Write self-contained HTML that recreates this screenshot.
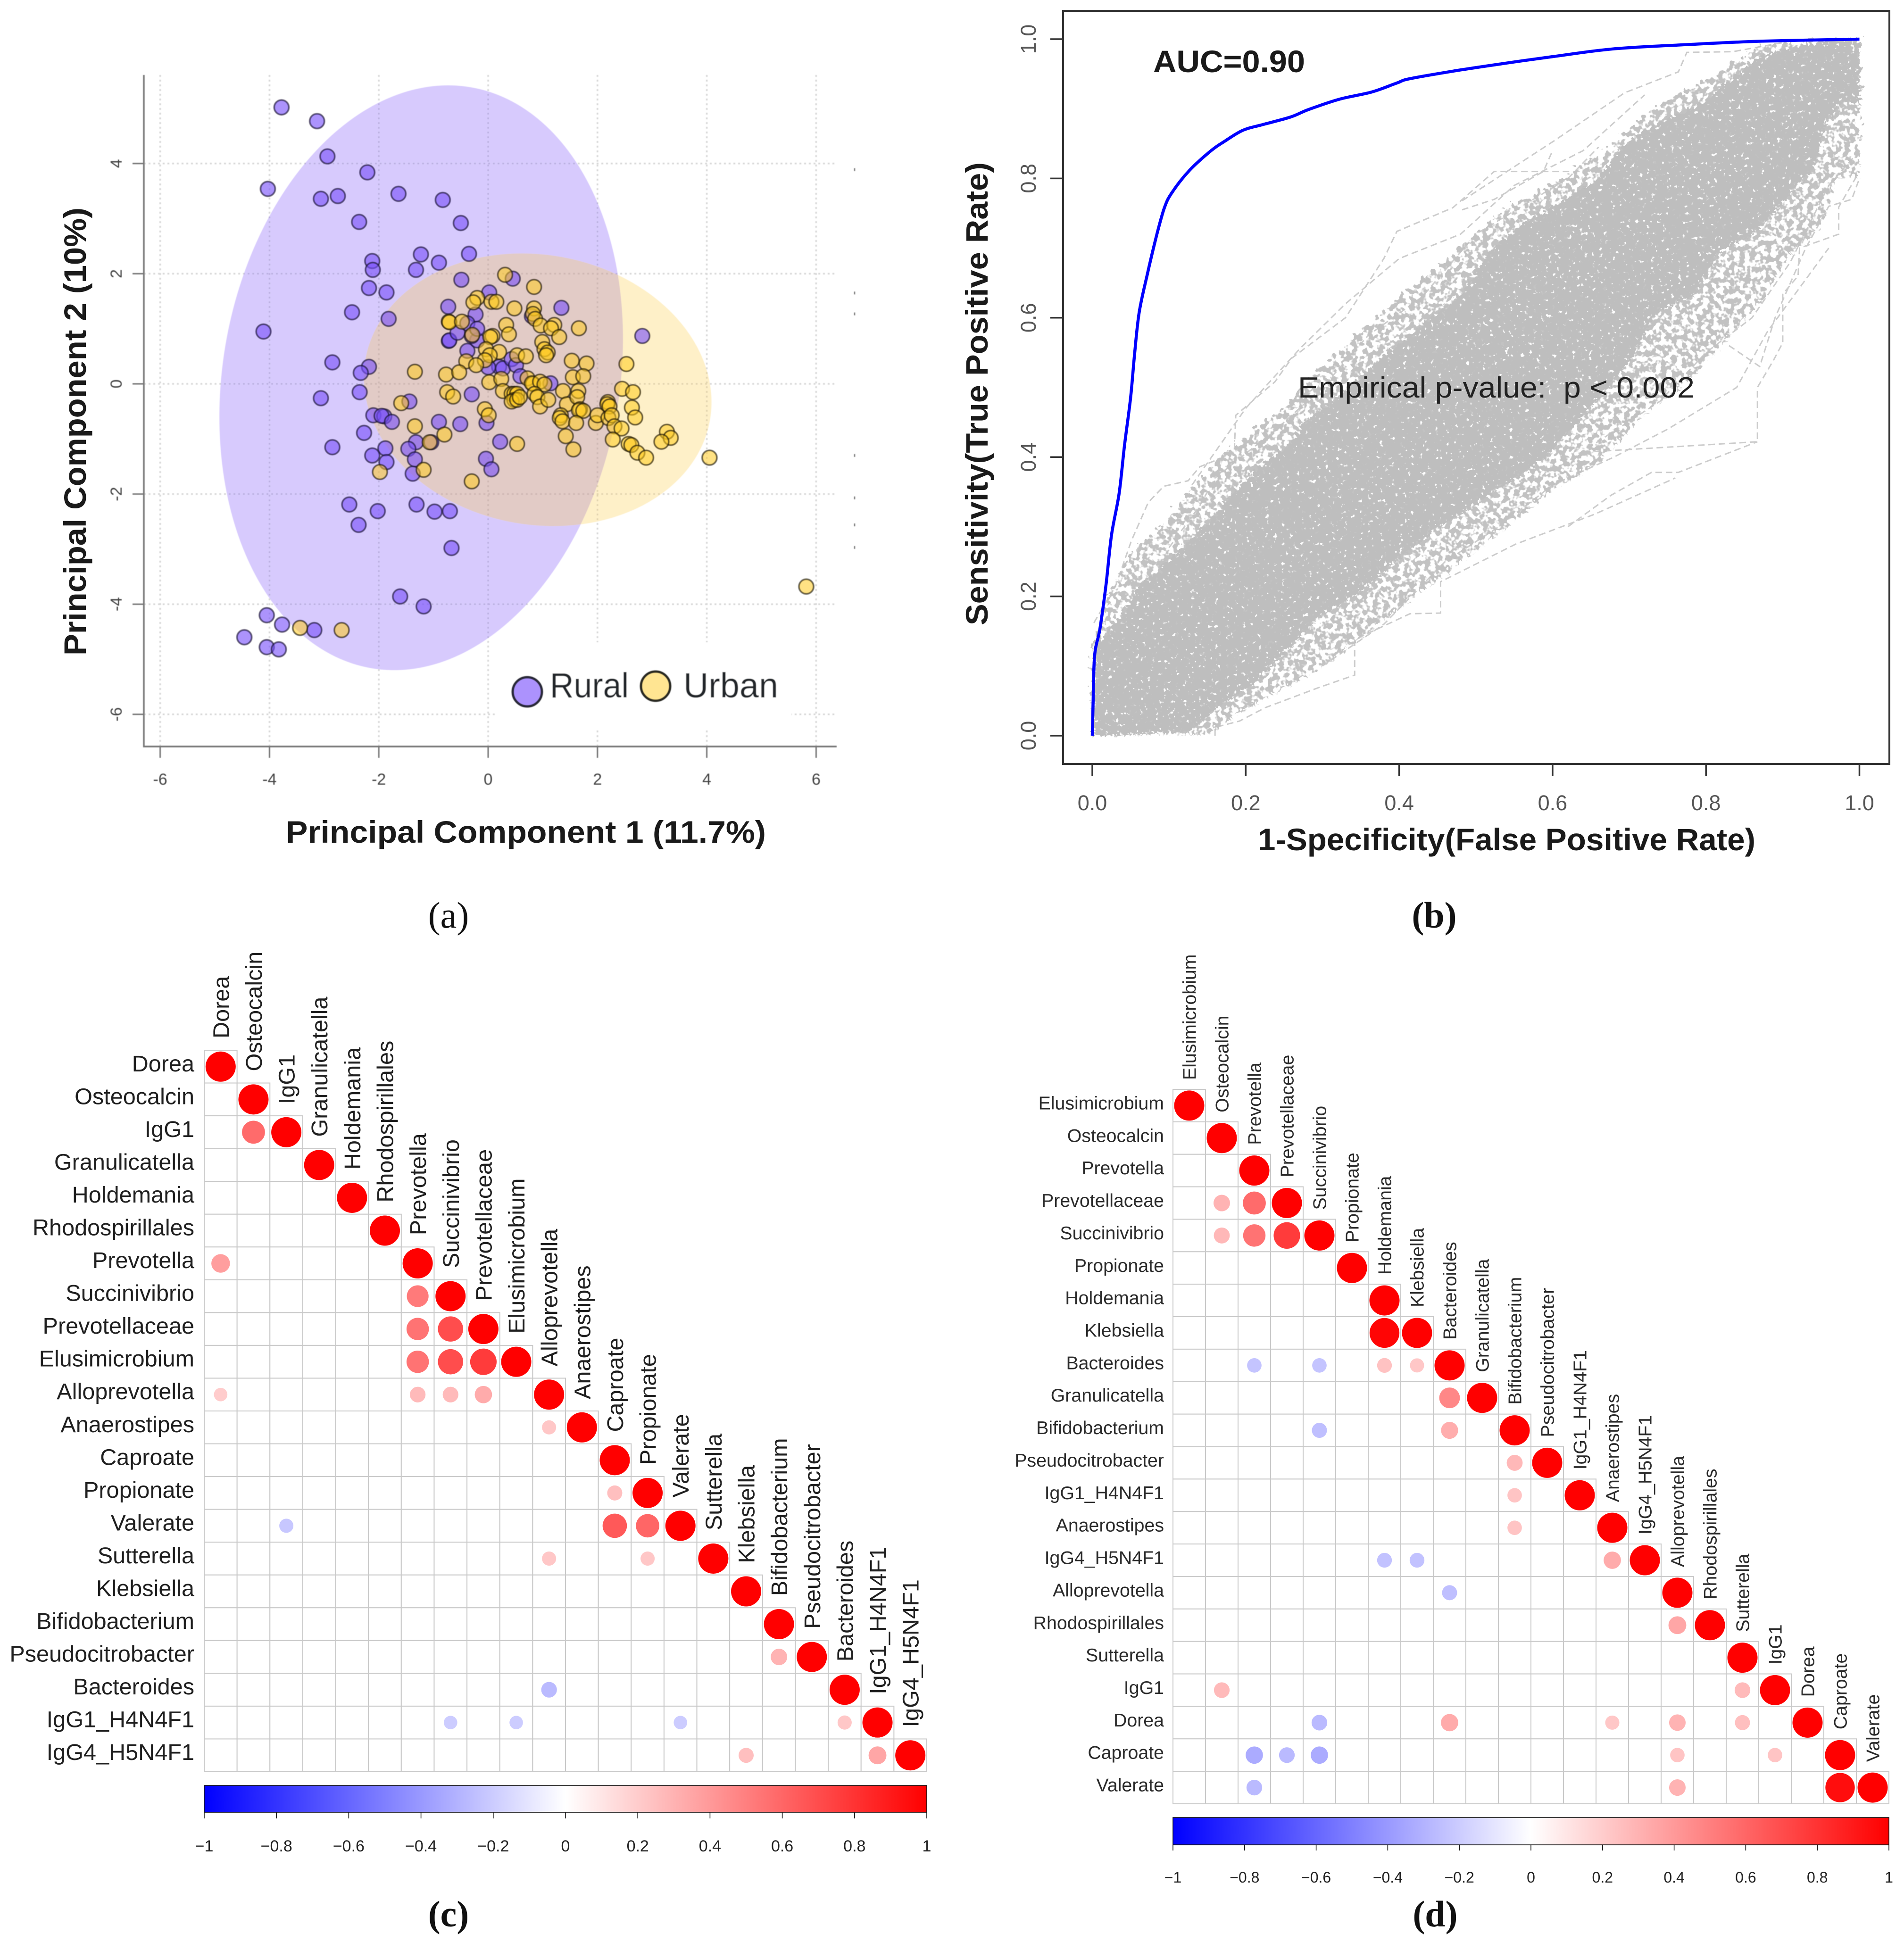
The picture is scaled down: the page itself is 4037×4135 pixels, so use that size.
<!DOCTYPE html>
<html lang="en">
<head>
<meta charset="utf-8">
<title>PCA, ROC and correlation panels</title>
<style>
html,body{margin:0;padding:0;background:#fff}
svg{display:block}
text{font-family:"Liberation Sans",Arial,sans-serif}
.cap{font-family:"Liberation Serif","Times New Roman",serif;font-size:78px;fill:#111;text-anchor:middle}
.ttl{font-weight:bold;font-size:66px;fill:#1a1a1a}
</style>
</head>
<body>
<svg id="root" xmlns="http://www.w3.org/2000/svg" width="4037" height="4135" viewBox="0 0 4037 4135">
  <defs>
    <linearGradient id="cbar" x1="0" x2="1" y1="0" y2="0">
      <stop offset="0" stop-color="#0000ff"/>
      <stop offset="0.5" stop-color="#ffffff"/>
      <stop offset="1" stop-color="#ff0000"/>
    </linearGradient>
    <filter id="soften" x="-2%" y="-2%" width="104%" height="104%">
      <feGaussianBlur stdDeviation="0.9"/>
    </filter>
    <filter id="fringeTexture" x="-4%" y="-4%" width="108%" height="108%" color-interpolation-filters="sRGB">
      <feTurbulence type="fractalNoise" baseFrequency="0.09" numOctaves="2" seed="7" result="noise"/>
      <feDisplacementMap in="SourceGraphic" in2="noise" scale="34" xChannelSelector="R" yChannelSelector="G" result="moved"/>
      <feColorMatrix in="noise" type="matrix" values="0 0 0 0 0  0 0 0 0 0  0 0 0 0 0  0 10 0 0 -4.4" result="mask"/>
      <feComposite in="moved" in2="mask" operator="in"/>
    </filter>
    <filter id="coreTexture" x="-4%" y="-4%" width="108%" height="108%" color-interpolation-filters="sRGB">
      <feTurbulence type="fractalNoise" baseFrequency="0.12" numOctaves="2" seed="11" result="noise"/>
      <feDisplacementMap in="SourceGraphic" in2="noise" scale="26" xChannelSelector="R" yChannelSelector="G" result="moved"/>
      <feColorMatrix in="noise" type="matrix" values="0 0 0 0 0  0 0 0 0 0  0 0 0 0 0  0 14 0 0 -3.9" result="mask"/>
      <feComposite in="moved" in2="mask" operator="in"/>
    </filter>
  </defs>
  <g id="panelA" filter="url(#soften)"></g>
  <g id="panelB"></g>
  <g id="panelC"></g>
  <g id="panelD"></g>

  <text class="ttl" x="606" y="1787" textLength="1018" lengthAdjust="spacingAndGlyphs">Principal Component 1 (11.7%)</text>
  <text class="ttl" transform="translate(182,915) rotate(-90)" text-anchor="middle" textLength="950" lengthAdjust="spacingAndGlyphs">Principal Component 2 (10%)</text>
  <text class="ttl" x="2667" y="1803" textLength="1055" lengthAdjust="spacingAndGlyphs">1-Specificity(False Positive Rate)</text>
  <text class="ttl" transform="translate(2094,835) rotate(-90)" text-anchor="middle" textLength="982" lengthAdjust="spacingAndGlyphs">Sensitivity(True Positive Rate)</text>
  <text class="ttl" x="2445" y="153" textLength="322" lengthAdjust="spacingAndGlyphs">AUC=0.90</text>
  <text x="2752" y="843" font-size="62" fill="#222" textLength="841" lengthAdjust="spacingAndGlyphs" xml:space="preserve">Empirical p-value:  p &lt; 0.002</text>

  <text class="cap" x="951" y="1967">(a)</text>
  <text class="cap" x="3041" y="1967" font-weight="bold">(b)</text>
  <text class="cap" x="951" y="4085" font-weight="bold">(c)</text>
  <text class="cap" x="3043" y="4085" font-weight="bold">(d)</text>
</svg>

<script>
/* ---------- Panel A data ---------- */
const pcaXTickLabels = ['-6','-4','-2','0','2','4','6'];
const pcaYTickLabels = ['-6','-4','-2','0','2','4'];
const pcaEdgeMarks = [3.89,1.65,1.27,-1.3,-2.07,-2.56,-2.97];
const ruralEllipse = [-1.225, 0.111, 3.63, 5.35, 9.7];
const urbanEllipse = [0.906, -0.107, 3.2, 2.45, 10.1];
const ruralPoints = [
[-3.78,5.02],[-3.13,4.77],[-2.94,4.13],[-4.03,3.54],[-3.06,3.36],[-2.75,3.41],[-2.21,3.84],[-1.64,3.45],[-0.83,3.34],[-0.5,2.92],
[-2.36,2.94],[-1.23,2.35],[-0.35,2.36],[-2.12,2.23],[-2.11,2.07],[-1.32,2.07],[-0.9,2.2],[-0.49,1.89],[-2.18,1.74],[-1.86,1.66],
[-2.49,1.3],[-1.82,1.18],[-4.11,0.95],[0.45,1.91],[0.02,1.66],[-0.73,1.4],[1.34,1.38],[-0.23,1.26],[0.8,1.23],[2.82,0.87],
[-2.85,0.39],[-2.18,0.31],[-2.33,0.2],[-2.35,-0.15],[-3.06,-0.26],[-1.44,-0.32],[-0.3,-0.19],[-2.1,-0.57],[-1.9,-0.59],[-1.95,-0.58],
[-1.76,-0.69],[-0.9,-0.69],[-0.51,-0.73],[-0.03,-0.71],[-2.27,-0.89],[-2.85,-1.15],[-1.32,-1.06],[-1.88,-1.17],[-1.46,-1.18],[-1.04,-1.06],
[-2.12,-1.3],[-1.86,-1.42],[-1.34,-1.37],[-1.38,-1.63],[0.22,-1.05],[-0.04,-1.36],[0.06,-1.55],[-2.54,-2.19],[-1.31,-2.19],[-2.02,-2.31],
[-0.98,-2.32],[-0.7,-2.31],[-2.37,-2.56],[-0.67,-2.98],[-1.61,-3.86],[-1.18,-4.04],[-4.05,-4.2],[-3.77,-4.37],[-3.18,-4.47],[-4.46,-4.6],
[-4.05,-4.78],[-3.83,-4.82],[-0.72,0.78],[-0.71,0.79],[-0.56,0.93],[-0.38,1.1],[-0.38,0.6],[-0.2,0.79],[-0.3,0.87],[0.2,0.31],
[0.27,0.28],[0.43,0.45],[0.51,0.34],[0.59,0.14],[1.14,0.01],[0.0,0.3],[-0.2,1.0]
];
const urbanPoints = [
[0.31,1.98],[0.84,1.76],[-0.2,1.56],[-0.27,1.48],[0.06,1.49],[0.15,1.49],[0.48,1.37],[0.84,1.37],[0.82,1.27],[0.86,1.18],
[-0.72,1.13],[-0.71,1.12],[-0.48,1.13],[0.33,1.07],[0.96,1.06],[1.21,1.07],[1.15,1.01],[1.66,1.01],[0.38,0.9],[-0.29,0.89],
[0.08,0.87],[0.04,0.85],[1.3,0.85],[0.99,0.76],[1.03,0.63],[1.09,0.57],[1.06,0.52],[-0.04,0.63],[0.2,0.58],[0.03,0.52],
[-0.06,0.43],[0.53,0.52],[0.69,0.5],[-0.4,0.41],[-0.22,0.34],[1.53,0.42],[1.8,0.37],[2.53,0.36],[-1.34,0.22],[-0.77,0.17],
[-0.53,0.21],[0.02,0.03],[0.24,0.09],[1.55,0.12],[1.74,0.14],[0.72,0.1],[0.82,0.0],[0.8,0.01],[0.95,0.04],[1.03,-0.01],
[2.45,-0.09],[2.65,-0.15],[-0.75,-0.15],[-0.64,-0.23],[0.27,-0.13],[1.37,-0.13],[1.65,-0.13],[0.43,-0.18],[0.48,-0.18],[0.53,-0.18],
[0.48,-0.29],[0.43,-0.32],[0.53,-0.29],[0.58,-0.24],[0.85,-0.18],[0.9,-0.24],[0.95,-0.41],[1.1,-0.29],[-1.59,-0.35],[-0.06,-0.46],
[0.01,-0.57],[2.19,-0.33],[2.18,-0.37],[2.22,-0.41],[2.63,-0.43],[2.69,-0.61],[1.44,-0.37],[1.63,-0.24],[1.68,-0.46],[1.66,-0.48],
[1.74,-0.49],[1.33,-0.57],[1.31,-0.62],[1.36,-0.68],[1.61,-0.71],[1.97,-0.71],[2.0,-0.57],[2.2,-0.62],[2.26,-0.57],[-1.34,-0.77],
[2.31,-0.77],[2.44,-0.81],[-0.8,-0.92],[1.42,-0.95],[2.28,-1.01],[3.27,-0.87],[3.34,-0.98],[3.17,-1.05],[2.57,-1.09],[2.62,-1.11],
[0.53,-1.09],[-1.07,-1.06],[1.56,-1.19],[2.73,-1.25],[2.89,-1.34],[4.05,-1.34],[-1.18,-1.56],[-1.98,-1.6],[-0.3,-1.77],[5.82,-3.68],
[-3.44,-4.43],[-2.68,-4.47]
];
const legendNames = ['Rural','Urban'];

/* ---------- Panel B data ---------- */
const rocXTickLabels = ['0.0','0.2','0.4','0.6','0.8','1.0'];
const rocYTickLabels = ['0.0','0.2','0.4','0.6','0.8','1.0'];
const rocCurve = [
[0,0],[0.001,0.046],[0.003,0.115],[0.01,0.154],[0.018,0.218],[0.025,0.288],[0.035,0.348],[0.042,0.417],[0.05,0.486],[0.055,0.547],
[0.061,0.607],[0.071,0.659],[0.084,0.719],[0.094,0.758],[0.104,0.78],[0.127,0.812],[0.155,0.84],[0.172,0.853],[0.196,0.869],[0.221,0.877],
[0.258,0.888],[0.282,0.899],[0.323,0.914],[0.364,0.924],[0.397,0.937],[0.413,0.943],[0.47,0.954],[0.536,0.965],[0.601,0.975],[0.679,0.986],
[0.773,0.992],[0.871,0.997],[1,1]
];
const permCoreUpper = [
[0,0],[0.006,0.135],[0.037,0.169],[0.058,0.211],[0.101,0.252],[0.128,0.28],[0.157,0.314],[0.185,0.349],[0.213,0.383],[0.249,0.411],
[0.277,0.449],[0.312,0.48],[0.39,0.555],[0.482,0.634],[0.517,0.694],[0.553,0.729],[0.606,0.763],[0.658,0.798],[0.694,0.85],[0.746,0.884],
[0.793,0.906],[0.835,0.944],[0.87,0.975],[0.923,0.992],[1,1]
];
const permCoreLower = [
[1,0.906],[0.976,0.91],[0.955,0.875],[0.941,0.815],[0.898,0.763],[0.863,0.72],[0.817,0.694],[0.786,0.634],[0.736,0.608],[0.701,0.538],
[0.641,0.46],[0.588,0.396],[0.524,0.349],[0.446,0.294],[0.39,0.245],[0.347,0.204],[0.291,0.166],[0.249,0.117],[0.213,0.076],[0.164,0.041],
[0.128,0.007],[0.02,0]
];
const permFringeUpper = [
[0,0.12],[0.02,0.2],[0.05,0.26],[0.09,0.3],[0.12,0.34],[0.16,0.39],[0.2,0.43],[0.25,0.47],[0.3,0.53],[0.38,0.61],
[0.46,0.68],[0.53,0.75],[0.6,0.79],[0.67,0.84],[0.73,0.9],[0.8,0.94],[0.87,0.99],[0.95,0.998],[1,1]
];
const permFringeLower = [
[1,0.8],[0.97,0.8],[0.95,0.73],[0.91,0.69],[0.87,0.62],[0.82,0.56],[0.77,0.5],[0.72,0.46],[0.66,0.39],[0.6,0.35],
[0.53,0.29],[0.46,0.23],[0.4,0.18],[0.34,0.13],[0.29,0.09],[0.24,0.06],[0.19,0.03],[0.15,0],[0,0]
];
const permOutlierA = [[0.002,0.162],[0.03,0.214],[0.051,0.28],[0.073,0.335],[0.093,0.358],[0.125,0.366],[0.14,0.386],[0.185,0.406],[0.187,0.46],[0.238,0.508],[0.26,0.542],[0.33,0.6],[0.38,0.685],[0.397,0.724],[0.47,0.758],[0.524,0.81],[0.651,0.81]];
const permOutlierB = [[0.482,0.768],[0.602,0.854],[0.694,0.923],[0.764,0.953],[0.775,0.981],[0.835,0.982],[0.9,0.995]];
const permOutlierC = [[0.13,0.36],[0.2,0.47],[0.27,0.555],[0.33,0.62],[0.4,0.685],[0.48,0.72],[0.55,0.79],[0.64,0.84],[0.72,0.92]];
const permOutlierD = [[0.1,0.27],[0.14,0.33],[0.16,0.37],[0.24,0.44],[0.3,0.5],[0.36,0.575],[0.43,0.63],[0.5,0.72],[0.56,0.76],[0.62,0.8],[0.66,0.845]];
const permOutlierE = [[0.641,0.407],[0.701,0.411],[0.867,0.422],[0.867,0.5],[0.888,0.539],[0.9,0.564],[0.9,0.634],[0.91,0.647],[0.92,0.66],[0.922,0.7],[0.973,0.72],[0.973,0.759],[1,0.81]];
const permOutlierF = [[0.62,0.3],[0.676,0.345],[0.729,0.378],[0.764,0.378],[0.867,0.422]];
const permOutlierG = [[0.16,0],[0.16,0.012],[0.192,0.021],[0.225,0.04],[0.295,0.069],[0.342,0.087],[0.342,0.138],[0.414,0.175],[0.454,0.176],[0.454,0.221],[0.552,0.275],[0.655,0.318],[0.76,0.37]];
const permOutlierH = [[0.3,0.1],[0.38,0.16],[0.46,0.25],[0.53,0.3],[0.6,0.36],[0.68,0.4],[0.75,0.44],[0.84,0.5],[0.88,0.58],[0.92,0.64],[0.96,0.7]];
const permOutlierI = [[0.6,0.38],[0.67,0.43],[0.74,0.48],[0.8,0.55],[0.86,0.6],[0.91,0.68],[0.96,0.79],[1,0.84]];
const permOutlierJ = [[0.83,0.56],[0.87,0.53],[0.89,0.6],[0.93,0.7],[0.96,0.76],[0.99,0.77],[1,0.8]];
const permOutlierK = [[0.482,0.755],[0.524,0.77],[0.588,0.81],[0.6,0.84]];
const permOutliers = [permOutlierA,permOutlierB,permOutlierC,permOutlierD,permOutlierE,permOutlierF,permOutlierG,permOutlierH,permOutlierI,permOutlierJ,permOutlierK];

/* ---------- Panel C / D data ---------- */
const colorbarLabels = ['\u22121','\u22120.8','\u22120.6','\u22120.4','\u22120.2','0','0.2','0.4','0.6','0.8','1'];
const colorbarValues = [-1,-0.8,-0.6,-0.4,-0.2,0,0.2,0.4,0.6,0.8,1];
const corrLabelsC = ['Dorea','Osteocalcin','IgG1','Granulicatella','Holdemania','Rhodospirillales','Prevotella','Succinivibrio','Prevotellaceae','Elusimicrobium','Alloprevotella','Anaerostipes','Caproate','Propionate','Valerate','Sutterella','Klebsiella','Bifidobacterium','Pseudocitrobacter','Bacteroides','IgG1_H4N4F1','IgG4_H5N4F1'];
const corrDiagC = [1,1,1,1,1,1,1,1,1,1,1,1,1,1,1,1,1,1,1,1,1,1];
const corrPairsC = [
[2,1,0.58],[6,0,0.38],[7,6,0.52],[8,6,0.55],[8,7,0.7],[9,6,0.55],[9,7,0.7],[9,8,0.77],[10,0,0.2],[10,6,0.27],
[10,7,0.27],[10,8,0.33],[11,10,0.22],[13,12,0.25],[14,2,-0.22],[14,12,0.65],[14,13,0.6],[15,10,0.22],[15,13,0.22],[18,17,0.3],
[19,10,-0.27],[20,7,-0.2],[20,9,-0.2],[20,14,-0.2],[20,19,0.22],[21,16,0.25],[21,20,0.35]
];
const corrLabelsD = ['Elusimicrobium','Osteocalcin','Prevotella','Prevotellaceae','Succinivibrio','Propionate','Holdemania','Klebsiella','Bacteroides','Granulicatella','Bifidobacterium','Pseudocitrobacter','IgG1_H4N4F1','Anaerostipes','IgG4_H5N4F1','Alloprevotella','Rhodospirillales','Sutterella','IgG1','Dorea','Caproate','Valerate'];
const corrDiagD = [1,1,1,1,1,1,1,1,1,1,1,1,1,1,1,1,1,1,1,1,1,1];
const corrPairsD = [
[3,1,0.3],[3,2,0.58],[4,1,0.28],[4,2,0.55],[4,3,0.77],[7,6,0.98],[8,2,-0.23],[8,4,-0.23],[8,6,0.24],[8,7,0.22],
[9,8,0.47],[10,4,-0.25],[10,8,0.32],[11,10,0.28],[12,10,0.23],[13,10,0.23],[14,6,-0.24],[14,7,-0.24],[14,13,0.33],[15,8,-0.25],
[16,15,0.35],[18,1,0.27],[18,17,0.27],[19,4,-0.27],[19,8,0.33],[19,13,0.22],[19,15,0.3],[19,17,0.25],[20,2,-0.33],[20,3,-0.27],
[20,4,-0.33],[20,15,0.23],[20,18,0.23],[21,2,-0.27],[21,15,0.3],[21,20,0.95]
];

/* ---------- Helpers ---------- */
const NS = 'http://www.w3.org/2000/svg';
function mk(tag, attrs, parent, text) {
  const n = document.createElementNS(NS, tag);
  for (const k in attrs) n.setAttribute(k, attrs[k]);
  if (text !== undefined) n.textContent = text;
  parent.appendChild(n);
  return n;
}
function pathOf(pts, sx, sy) {
  return pts.map((p, i) => (i ? 'L' : 'M') + sx(p[0]).toFixed(1) + ' ' + sy(p[1]).toFixed(1)).join('');
}
function smoothPathOf(pts, sx, sy) {
  const q = pts.map(p => [sx(p[0]), sy(p[1])]);
  let d = 'M' + q[0][0].toFixed(1) + ' ' + q[0][1].toFixed(1);
  for (let i = 0; i < q.length - 1; i++) {
    const a = q[Math.max(0, i - 1)], b = q[i], c = q[i + 1], e = q[Math.min(q.length - 1, i + 2)];
    const c1x = b[0] + (c[0] - a[0]) / 6, c1y = b[1] + (c[1] - a[1]) / 6;
    const c2x = c[0] - (e[0] - b[0]) / 6, c2y = c[1] - (e[1] - b[1]) / 6;
    d += 'C' + c1x.toFixed(1) + ' ' + c1y.toFixed(1) + ' ' + c2x.toFixed(1) + ' ' + c2y.toFixed(1) + ' ' + c[0].toFixed(1) + ' ' + c[1].toFixed(1);
  }
  return d;
}

/* ---------- Panel A ---------- */
(function () {
  const g = document.getElementById('panelA');
  const x = v => 1035 + 115.9 * v;
  const y = v => 814 - 116.8 * v;
  const left = 305, right = 1774, top = 159, bottom = 1583;

  pcaXTickLabels.forEach(t => {
    const line = mk('line', {x1: x(+t), x2: x(+t), y1: top, y2: bottom, stroke: '#d8d8d8', 'stroke-width': 3.5, 'stroke-dasharray': '4 6'}, g);
    
    
  });
  pcaYTickLabels.forEach(t => {
    const line = mk('line', {x1: left, x2: right, y1: y(+t), y2: y(+t), stroke: '#d8d8d8', 'stroke-width': 3.5, 'stroke-dasharray': '4 6'}, g);
    
    
  });

  const e1 = mk('ellipse', {cx: x(ruralEllipse[0]), cy: y(ruralEllipse[1]), rx: ruralEllipse[2] * 115.9, ry: ruralEllipse[3] * 116.8,
    transform: 'rotate(' + ruralEllipse[4] + ' ' + x(ruralEllipse[0]) + ' ' + y(ruralEllipse[1]) + ')', fill: '#7a50fa', 'fill-opacity': 0.3}, g);
  
  
  const e2 = mk('ellipse', {cx: x(urbanEllipse[0]), cy: y(urbanEllipse[1]), rx: urbanEllipse[2] * 115.9, ry: urbanEllipse[3] * 116.8,
    transform: 'rotate(' + urbanEllipse[4] + ' ' + x(urbanEllipse[0]) + ' ' + y(urbanEllipse[1]) + ')', fill: '#fbcd44', 'fill-opacity': 0.3}, g);
  
  

  const rg = mk('g', {}, g);
  
  
  ruralPoints.forEach(p => {
    const c = mk('circle', {cx: x(p[0]), cy: y(p[1]), r: 15.5, fill: 'rgb(121,81,250)', 'fill-opacity': 0.62, stroke: 'rgb(25,20,50)', 'stroke-opacity': 0.66, 'stroke-width': 3.6}, rg);
    
    
  });
  const ug = mk('g', {}, g);
  
  
  urbanPoints.forEach(p => {
    const c = mk('circle', {cx: x(p[0]), cy: y(p[1]), r: 15.5, fill: 'rgb(255,203,30)', 'fill-opacity': 0.55, stroke: 'rgb(30,25,10)', 'stroke-opacity': 0.66, 'stroke-width': 3.6}, ug);
    
    
  });

  const box = mk('rect', {x: 1050, y: 1362, width: 628, height: 183, fill: '#fff'}, g);
  
  

  pcaEdgeMarks.forEach(v => {
    const m = mk('line', {x1: 1812, x2: 1812, y1: y(v) - 3, y2: y(v) + 3, stroke: '#777', 'stroke-width': 2.5}, g);
    
    
  });

  const axis = mk('path', {d: 'M' + left + ' ' + top + 'V' + bottom + 'H' + right, fill: 'none', stroke: '#777', 'stroke-width': 3.5}, g);
  
  

  pcaXTickLabels.forEach(t => {
    const tk = mk('line', {x1: x(+t), x2: x(+t), y1: bottom, y2: 1607, stroke: '#777', 'stroke-width': 3}, g);
    
    
    const lb = mk('text', {x: x(+t), y: 1664, 'text-anchor': 'middle', 'font-size': 34, fill: '#444'}, g, t);
    
    
  });
  pcaYTickLabels.forEach(t => {
    const tk = mk('line', {x1: 281, x2: left, y1: y(+t), y2: y(+t), stroke: '#777', 'stroke-width': 3}, g);
    
    
    const lb = mk('text', {transform: 'translate(258,' + y(+t) + ') rotate(-90)', 'text-anchor': 'middle', 'font-size': 34, fill: '#444'}, g, t);
    
    
  });

  const l1 = mk('circle', {cx: 1118, cy: 1467, r: 31, fill: '#ac92fd', stroke: '#2c2a3a', 'stroke-width': 5.5}, g);
  
  
  const t1 = mk('text', {x: 1166, y: 1479, 'font-size': 74, fill: '#22262c', textLength: 167, lengthAdjust: 'spacingAndGlyphs'}, g, legendNames[0]);
  
  
  const l2 = mk('circle', {cx: 1390, cy: 1455, r: 31, fill: '#ffe592', stroke: '#2a2a22', 'stroke-width': 5.5}, g);
  
  
  const t2 = mk('text', {x: 1449, y: 1479, 'font-size': 74, fill: '#22262c', textLength: 201, lengthAdjust: 'spacingAndGlyphs'}, g, legendNames[1]);
  
  
})();

/* ---------- Panel B ---------- */
(function () {
  const g = document.getElementById('panelB');
  const x = v => 2316 + 1626.5 * v;
  const y = v => 1560 - 1477 * v;

  permOutliers.forEach(c => {
    const o = mk('path', {d: pathOf(c, x, y), fill: 'none', stroke: '#cccccc', 'stroke-width': 3, 'stroke-dasharray': '14 8'}, g);
    
    
  });
  const fringe = mk('path', {d: pathOf(permFringeUpper.concat(permFringeLower), x, y) + 'Z', fill: '#c2c2c2', filter: 'url(#fringeTexture)'}, g);
  
  
  const core = mk('path', {d: pathOf(permCoreUpper.concat(permCoreLower), x, y) + 'Z', fill: '#bebebe', filter: 'url(#coreTexture)'}, g);
  
  

  const roc = mk('path', {d: smoothPathOf(rocCurve, x, y), fill: 'none', stroke: '#0000ff', 'stroke-width': 6.5, 'stroke-linejoin': 'round'}, g);
  
  

  const frame = mk('rect', {x: 2254, y: 23, width: 1752, height: 1597, fill: 'none', stroke: '#333', 'stroke-width': 4}, g);
  
  

  rocXTickLabels.forEach(t => {
    const tk = mk('line', {x1: x(+t), x2: x(+t), y1: 1620, y2: 1646, stroke: '#333', 'stroke-width': 3.5}, g);
    
    
    const lb = mk('text', {x: x(+t), y: 1718, 'text-anchor': 'middle', 'font-size': 45, fill: '#555'}, g, t);
    
    
  });
  rocYTickLabels.forEach(t => {
    const tk = mk('line', {x1: 2227, x2: 2254, y1: y(+t), y2: y(+t), stroke: '#333', 'stroke-width': 3.5}, g);
    
    
    const lb = mk('text', {transform: 'translate(2196,' + y(+t) + ') rotate(-90)', 'text-anchor': 'middle', 'font-size': 45, fill: '#555'}, g, t);
    
    
  });
})();

/* ---------- Panels C, D ---------- */
function colorOf(v) {
  const a = Math.min(1, Math.abs(v));
  const c = Math.round(255 * (1 - a));
  return v >= 0 ? 'rgb(255,' + c + ',' + c + ')' : 'rgb(' + c + ',' + c + ',255)';
}
function drawCorr(gid, labels, diag, pairs, left, right, top, bottom, fontSize, textFill, rowBase, topGap, labelRight, barTop, barBottom, tickEnd, barLabelY, barFont) {
  const g = document.getElementById(gid);
  const n = labels.length;
  const cw = (right - left) / n, ch = (bottom - top) / n;
  const cx = j => left + cw * (j + 0.5);
  const cy = i => top + ch * (i + 0.5);
  const radius = v => 32 * Math.sqrt(Math.abs(v));
  const barX = v => left + (v + 1) / 2 * (right - left);

  for (let i = 0; i < n; i++) {
    for (let j = 0; j <= i; j++) {
      const cell = mk('rect', {x: left + cw * j, y: top + ch * i, width: cw, height: ch, fill: '#fff', stroke: '#c9c9c9', 'stroke-width': 2}, g);
      
      
    }
  }
  labels.forEach((name, i) => {
    const rl = mk('text', {x: labelRight, y: cy(i) + rowBase, 'text-anchor': 'end', 'font-size': fontSize, fill: textFill}, g, name);
    
    
    const cl = mk('text', {transform: 'translate(' + (cx(i) + fontSize * 0.36) + ',' + (top + ch * i - topGap) + ') rotate(-90)', 'font-size': fontSize, fill: textFill}, g, name);
    
    
  });
  diag.forEach((v, i) => {
    const d = mk('circle', {cx: cx(i), cy: cy(i), r: radius(v), fill: colorOf(v)}, g);
    
    
  });
  pairs.forEach(p => {
    const c = mk('circle', {cx: cx(p[1]), cy: cy(p[0]), r: radius(p[2]), fill: colorOf(p[2])}, g);
    
    
  });

  const bar = mk('rect', {x: left, y: barTop, width: right - left, height: barBottom - barTop, fill: 'url(#cbar)', stroke: '#111', 'stroke-width': 1.6}, g);
  
  
  colorbarValues.forEach((v, k) => {
    const tk = mk('line', {x1: barX(v), x2: barX(v), y1: barBottom, y2: tickEnd, stroke: '#111', 'stroke-width': 1.6}, g);
    
    
    const lb = mk('text', {x: barX(v), y: barLabelY, 'text-anchor': 'middle', 'font-size': barFont, fill: '#222'}, g, colorbarLabels[k]);
    
    
  });
}
drawCorr('panelC', corrLabelsC, corrDiagC, corrPairsC, 433, 1965, 2227, 3757, 48.6, '#1f1f1f', 10, 25, 412, 3786, 3843, 3856, 3926, 34);
drawCorr('panelD', corrLabelsD, corrDiagD, corrPairsD, 2487, 4005, 2310, 3825, 39.3, '#2a2a2a', 8, 20, 2468, 3854, 3912, 3924, 3992, 32);
</script>
</body>
</html>
